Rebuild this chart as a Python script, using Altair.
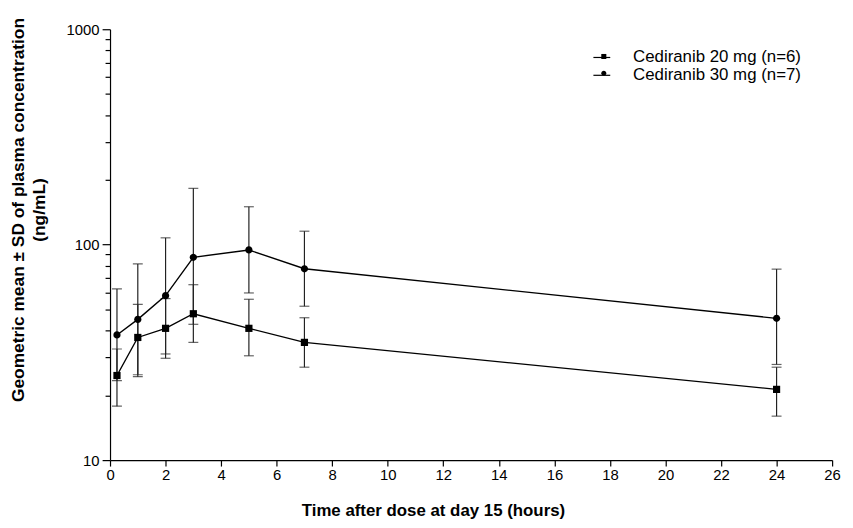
import altair as alt
import pandas as pd

# ---- data ----
times = [0.25, 1, 2, 3, 5, 7, 24]
series_names = ["Cediranib 20 mg (n=6)", "Cediranib 30 mg (n=7)"]

mean_20 = [24.7, 37.1, 40.9, 47.8, 40.9, 35.2, 21.3]
lower_20 = [17.8, 24.4, 29.7, 35.2, 30.5, 27.0, 16.0]
upper_20 = [32.8, 52.8, 56.2, 65.2, 55.8, 45.8, 27.0]

mean_30 = [38.1, 45.0, 58.0, 87.4, 94.5, 77.3, 45.5]
lower_30 = [23.4, 24.9, 31.1, 42.7, 59.7, 51.8, 27.8]
upper_30 = [62.3, 81.4, 107.6, 182.6, 150.0, 115.5, 77.0]

x_ticks = list(range(0, 27, 2))
y_ticks = [10, 20, 30, 40, 50, 60, 70, 80, 90,
           100, 200, 300, 400, 500, 600, 700, 800, 900, 1000]

# marker shapes as unit paths (square, circle)
marker_paths = ["M-1,-1H1V1H-1Z",
                "M1,0A1,1,0,1,1,-1,0A1,1,0,1,1,1,0Z"]

rows = []
for name, m, lo, hi in [(series_names[0], mean_20, lower_20, upper_20),
                        (series_names[1], mean_30, lower_30, upper_30)]:
    for t, a, b, c in zip(times, m, lo, hi):
        rows.append({"time": t, "series": name, "mean": a, "lower": b, "upper": c})
df = pd.DataFrame(rows)

FONT = "Liberation Sans"
LEG_X = 487
LEG_Y = 19

x_enc = alt.X(
    "time:Q",
    scale=alt.Scale(domain=[0, 26], nice=False, zero=False),
    axis=alt.Axis(
        values=x_ticks, title="Time after dose at day 15 (hours)",
        grid=False, tickSize=6, labelPadding=2, labelFlush=False,
        labelFontSize=15, titleFontSize=17, titleFontWeight="bold",
        titleX=326, titleY=56, titleAlign="center", titleBaseline="alphabetic",
        labelOverlap=False,
    ),
)
y_scale = alt.Scale(type="log", domain=[10, 1000], nice=False)

major_test = "datum.value == 10 || datum.value == 100 || datum.value == 1000"

main_y_axis = alt.Axis(
    values=y_ticks, grid=False, orient="left",
    labelExpr=f"({major_test}) ? format(datum.value, 'd') : ''",
    tickSize={"condition": {"test": major_test, "value": 8}, "value": 5},
    labelPadding=3, labelFlush=False, labelOverlap=False, labelFontSize=15,
    title=["Geometric mean ± SD of plasma concentration", "(ng/mL)"],
    titleFontSize=17.5, titleFontWeight="bold", titleAngle=270,
    titleX=-101, titleY=182, titleAlign="center", titleBaseline="top",
    titleLineHeight=21,
)

base = alt.Chart(df)

bars = base.mark_rule(color="#222", strokeWidth=1.2).encode(
    x=x_enc,
    y=alt.Y("lower:Q", scale=y_scale, axis=main_y_axis),
    y2="upper:Q",
)
caps_lo = base.mark_tick(orient="horizontal", size=10, thickness=1.2, color="#222").encode(
    x=x_enc,
    y=alt.Y("lower:Q", scale=y_scale),
)
caps_hi = base.mark_tick(orient="horizontal", size=10, thickness=1.2, color="#222").encode(
    x=x_enc,
    y=alt.Y("upper:Q", scale=y_scale),
)
# lines: legend shows the line part of each legend symbol, with the labels
lines = base.mark_line(strokeWidth=1.4).encode(
    x=x_enc,
    y=alt.Y("mean:Q", scale=y_scale),
    color=alt.Color(
        "series:N",
        scale=alt.Scale(range=["black", "black"]),
        legend=alt.Legend(
            title=None, orient="none", legendX=LEG_X, legendY=LEG_Y,
            symbolType="stroke", symbolSize=289, symbolStrokeWidth=1.2,
            symbolStrokeColor="black",
            labelFontSize=17, labelOffset=22, labelLimit=400,
            rowPadding=-3, labelColor="black", labelFont=FONT,
        ),
    ),
)
# points: legend shows only the small marker, overlaid on the line legend
points = base.mark_point(filled=True, color="black", opacity=1, size=53).encode(
    x=x_enc,
    y=alt.Y("mean:Q", scale=y_scale),
    shape=alt.Shape(
        "series:N",
        scale=alt.Scale(domain=series_names, range=marker_paths),
        legend=alt.Legend(
            title=None, orient="none", legendX=LEG_X + 3, legendY=LEG_Y,
            symbolSize=26, symbolFillColor="black", symbolStrokeWidth=0,
            symbolOpacity=1, labelExpr="' '",
            labelFontSize=17, labelOffset=22, labelLimit=400,
            rowPadding=-3, labelFont=FONT,
        ),
    ),
)

chart = (
    alt.layer(bars, caps_lo, caps_hi, lines, points)
    .properties(
        width=729, height=435,
        autosize=alt.AutoSizeParams(type="none"),
        padding={"left": 103, "top": 19, "right": 13, "bottom": 58},
        background="white",
    )
    .configure_view(stroke="transparent")
    .configure_axis(
        labelFont=FONT, titleFont=FONT, labelColor="black", titleColor="black",
        domainColor="black", tickColor="black", domainWidth=1.2, tickWidth=1.2,
    )
    .configure_legend(labelFont=FONT)
)

chart.save("out.html", embed_options={"renderer": "svg", "actions": False})
